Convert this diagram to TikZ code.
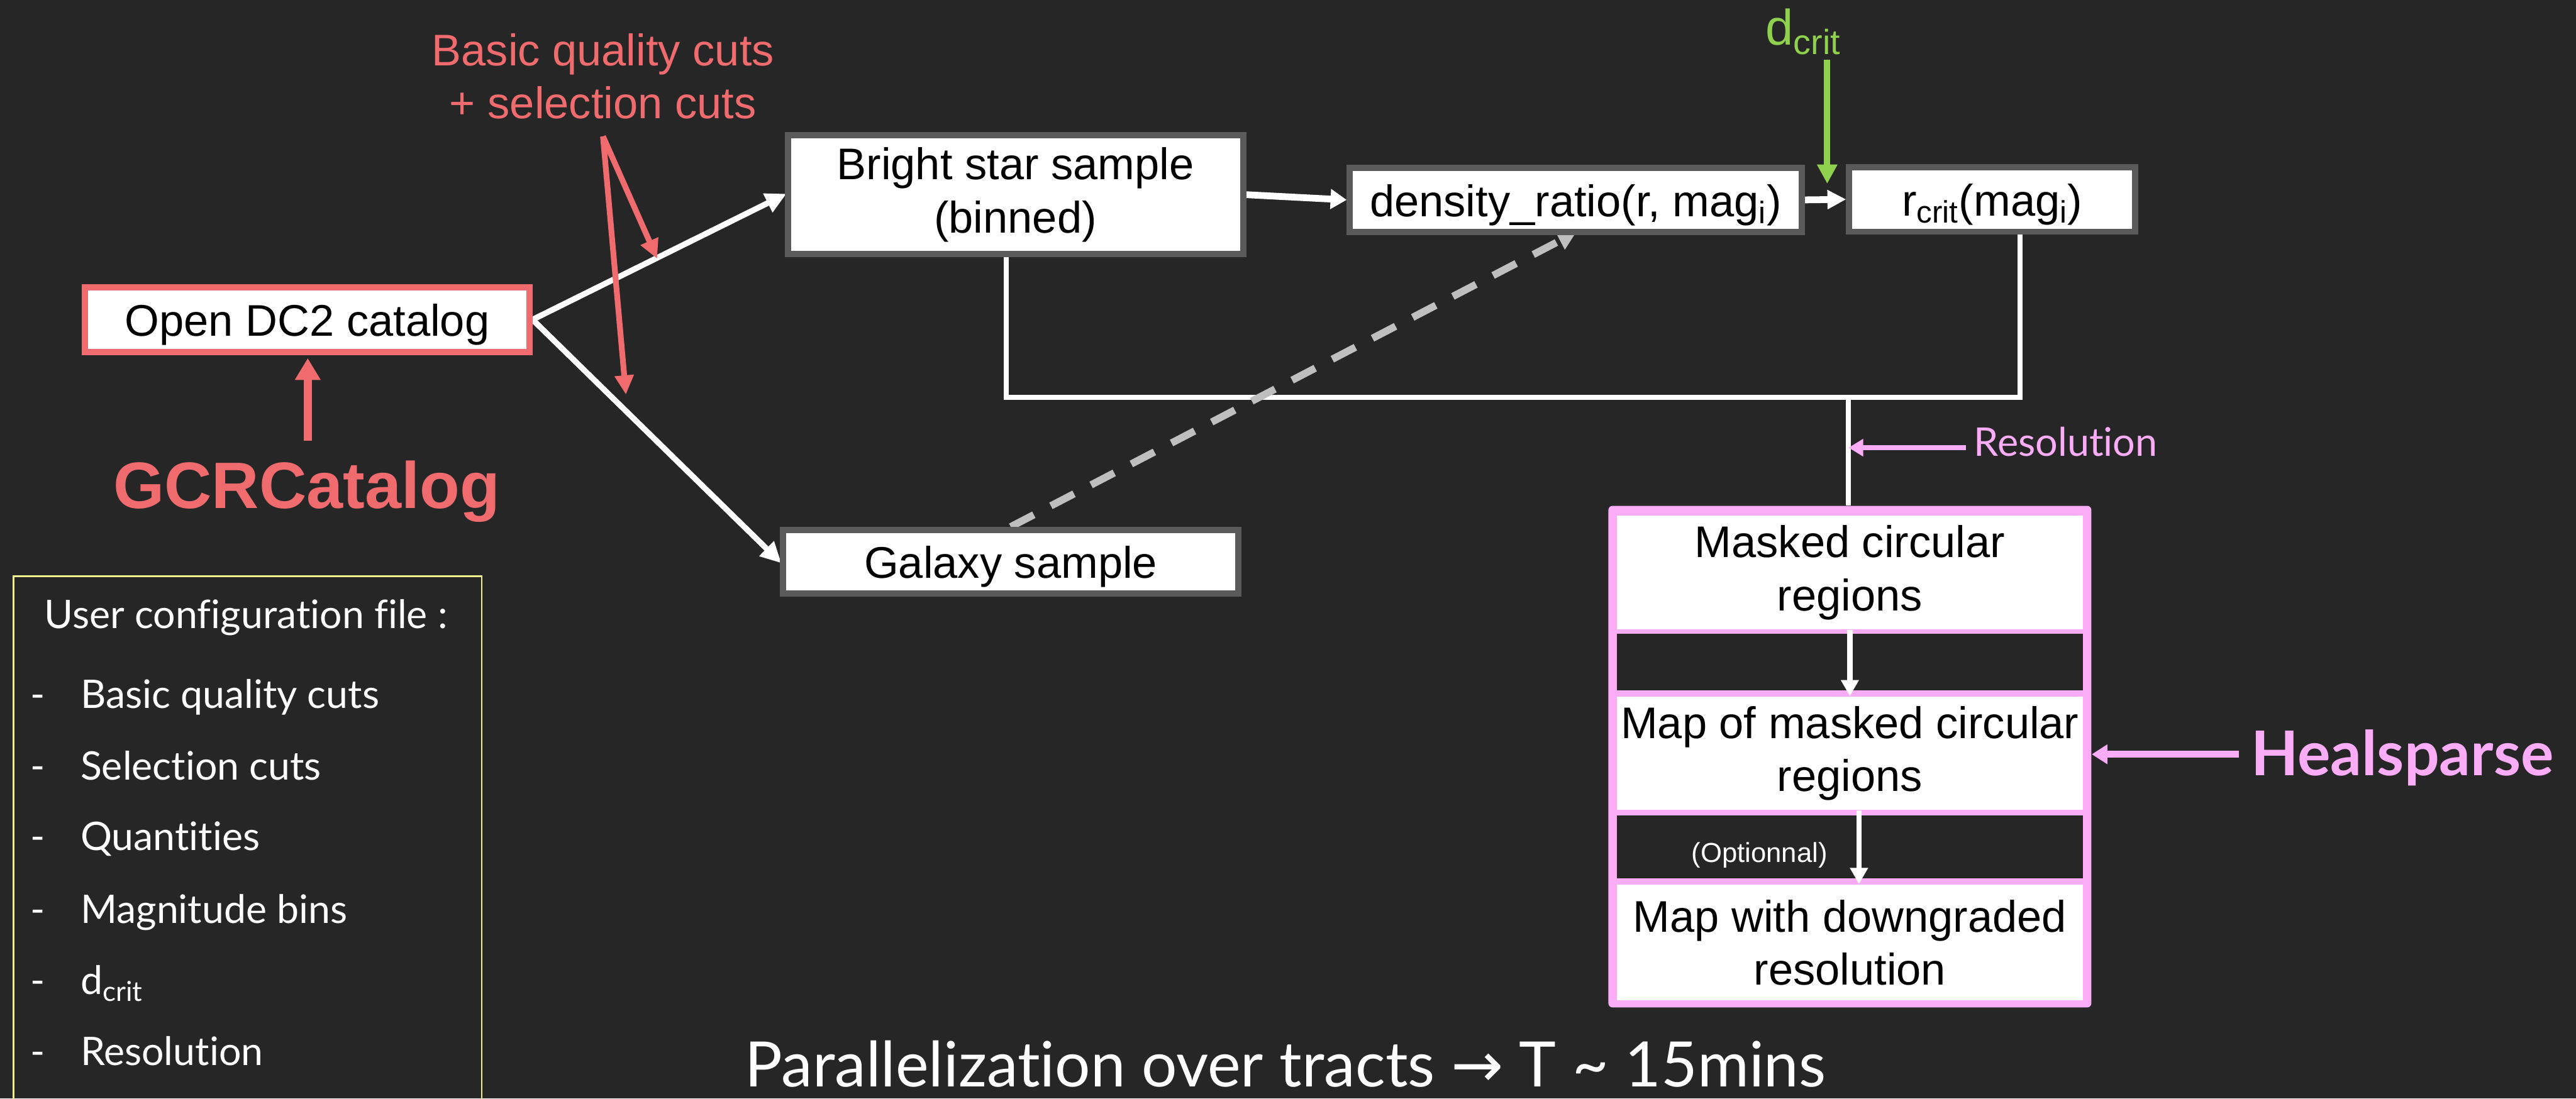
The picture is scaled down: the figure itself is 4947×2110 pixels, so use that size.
\documentclass[tikz,border=0pt]{standalone}
\usepackage{fontspec}
\setmainfont{Liberation Sans}
\newfontfamily\avfont[Ligatures=NoCommon]{Lato}
\newfontfamily\djv{DejaVu Sans}
\usetikzlibrary{arrows.meta}
\definecolor{bg}{RGB}{38,38,38}
\definecolor{cred}{RGB}{240,107,110}
\definecolor{cgreen}{RGB}{143,209,79}
\definecolor{cpink}{RGB}{250,172,247}
\definecolor{boxgray}{RGB}{90,90,90}
\definecolor{dashgray}{RGB}{191,191,191}
\definecolor{cyellow}{RGB}{240,240,140}
\newcommand\fmain{\fontsize{24.2pt}{29pt}\selectfont}
\newcommand\fcfg{\avfont\fontsize{21.5pt}{25pt}\selectfont}
\pgfdeclarelayer{behind}
\pgfsetlayers{behind,main}
\tikzset{
  box/.style={draw=boxgray, line width=0.12cm, fill=white, inner sep=0pt, align=center, font=\fmain, text=black},
  onebox/.style={box, text height=0.66cm, text depth=0.02cm},
  sub/.style={fill=white, inner sep=0pt, minimum width=8.95cm, align=center, font=\fmain, text=black},
  gapbox/.style={fill=bg, inner sep=0pt, minimum width=8.95cm},
  lbl/.style={inner sep=0pt},
  warrow/.style={draw=white, line width=0.11cm, -{Triangle[length=0.4cm,width=0.38cm]}},
  rarrow/.style={draw=cred, line width=0.11cm, -{Triangle[length=0.37cm,width=0.35cm]}},
  parrow/.style={draw=cpink, line width=0.1cm, -{Triangle[length=0.3cm,width=0.36cm]}},
}
\begin{document}
\begin{tikzpicture}[x=0.01cm, y=-0.01cm]
\useasboundingbox (0,0) rectangle (4947,2110);
\begin{pgfonlayer}{behind}
\fill[bg] (0,0) rectangle (4947,2110);
\end{pgfonlayer}

% boxes
\node[onebox, draw=cred, minimum width=8.53cm, minimum height=1.24cm] (dc2) at (590,614) {Open DC2 catalog};
\node[box, minimum width=8.74cm, minimum height=2.28cm] (bright) at (1950,374) {Bright star sample\\(binned)};
\node[onebox, minimum width=8.67cm, minimum height=1.23cm] (dens) at (3026,384) {density\_ratio(r, mag\textsubscript{i})};
\node[onebox, minimum width=5.49cm, minimum height=1.24cm] (rcrit) at (3826,383) {r\textsubscript{crit}(mag\textsubscript{i})};
\node[onebox, minimum width=8.74cm, minimum height=1.22cm] (galaxy) at (1941,1079) {Galaxy sample};

% Healsparse frame
\node[fill=cpink, rounded corners=0.08cm, minimum width=9.27cm, minimum height=9.63cm, inner sep=0pt] (frame) at (3552.5,1453.5) {};
\node[sub, minimum height=2.18cm] (m1) at (3552.5,1100) {Masked circular\\regions};
\node[gapbox, minimum height=1.08cm] (g1) at (3552.5,1272) {};
\node[sub, minimum height=2.18cm] (m2) at (3552.5,1447) {Map of masked circular\\regions};
\node[gapbox, minimum height=1.20cm] (g2) at (3552.5,1627) {};
\node[sub, minimum height=2.23cm] (m3) at (3552.5,1810.5) {Map with downgraded\\resolution};
\node[lbl, anchor=base, text=white, font=\fontsize{15pt}{18pt}\selectfont] (opt) at (3379,1656) {(Optionnal)};

% labels
\node[lbl, anchor=base, align=center, text=cred, font=\fmain] (cuts) at (1158,228) {Basic quality cuts\\+ selection cuts};
\node[lbl, anchor=base, text=cred, font=\bfseries\fontsize{35.85pt}{40pt}\selectfont] (gcr) at (589,977) {GCRCatalog};
\node[lbl, anchor=base west, text=cgreen, font=\fontsize{27.3pt}{30pt}\selectfont] (dcrit) at (3390,86) {d\textsubscript{crit}};
\node[lbl, anchor=base west, text=cpink, font=\avfont\fontsize{21.6pt}{25pt}\selectfont] (res) at (3790,876) {Resolution};
\node[lbl, anchor=base west, text=cpink, font=\avfont\bfseries\fontsize{33.7pt}{36pt}\selectfont] (heal) at (4322,1490) {Healsparse};
\node[lbl, anchor=base west, text=white, font=\avfont\fontsize{34.2pt}{38pt}\selectfont] (par) at (1430,2088) {Parallelization over tracts {\djv →} T \textasciitilde{} 15mins};

% user configuration
\draw[cyellow, line width=0.03cm] (26,2130) -- (26,1107) -- (925,1107) -- (925,2130);
\node[lbl, anchor=base west, text=white, font=\fcfg] (cfg) at (85,1207) {User configuration file :};
\foreach \nm/\yy/\tx in {i1/1361/Basic quality cuts, i2/1498/Selection cuts, i3/1633/Quantities, i4/1773/Magnitude bins, i5/1910/d\textsubscript{crit}, i6/2047/Resolution}{
  \node[lbl, anchor=base west, text=white, font=\fcfg] (\nm d) at (58,\yy) {-};
  \node[lbl, anchor=base west, text=white, font=\fcfg] (\nm) at (154,\yy) {\tx};
}

% coordinates
\coordinate (capex) at (1158,262);
\coordinate (ctip1) at (1262,497);
\coordinate (ctip2) at (1202,758);
\coordinate (gbot) at (591,847);
\coordinate (gtop) at (3509,115);
\coordinate (gtip) at (3509,353);
\coordinate (jl) at (1932,763);
\coordinate (jr) at (3879,763);
\coordinate (jm) at (3550,763);
\coordinate (rs) at (3775,860);
\coordinate (hs) at (4300,1449);
\coordinate (dtip) at (3027,446);
\coordinate (c2) at (3570,0);

\begin{pgfonlayer}{behind}
\draw[warrow, shorten >=-0.04cm] (dc2.east) -- (bright.west);
\draw[warrow, shorten >=-0.04cm] (dc2.east) -- (galaxy.west);
\draw[warrow, line width=0.13cm, -{Triangle[length=0.31cm,width=0.37cm]}] (bright.east) -- (dens.west);
\draw[warrow, line width=0.13cm, -{Triangle[length=0.36cm,width=0.35cm]}] (dens.east) -- (rcrit.west);
\draw[rarrow] (capex) -- (ctip1);
\draw[rarrow] (capex) -- (ctip2);
\draw[draw=cred, line width=0.16cm, -{Triangle[length=0.42cm,width=0.47cm]}, shorten >=0.06cm] (gbot) -- (dc2.south -| gbot);
\draw[draw=cgreen, line width=0.12cm, -{Triangle[length=0.37cm,width=0.37cm]}] (gtop) -- (gtip);
\draw[white, line width=0.1cm] (jl |- bright.south) -- (jl) -- (jr) -- (jr |- rcrit.south);
\draw[white, line width=0.1cm] (jm) -- (jm |- frame.north);
\draw[draw=dashgray, line width=0.14cm, dash pattern=on 0.5cm off 0.37cm, -{Triangle[length=0.35cm,width=0.37cm]}] (galaxy.north) -- (dtip);
\draw[parrow, line width=0.1cm, -{Triangle[length=0.28cm,width=0.32cm]}] (rs) -- (jm |- rs);
\draw[parrow, line width=0.13cm] (hs) -- (frame.east |- hs);
\end{pgfonlayer}

\draw[white, line width=0.1cm, -{Triangle[length=0.31cm,width=0.33cm]}] (m1.south) -- (m2.north);
\draw[white, line width=0.1cm, -{Triangle[length=0.31cm,width=0.33cm]}] (m2.south -| c2) -- (m3.north -| c2);
\end{tikzpicture}
\end{document}
